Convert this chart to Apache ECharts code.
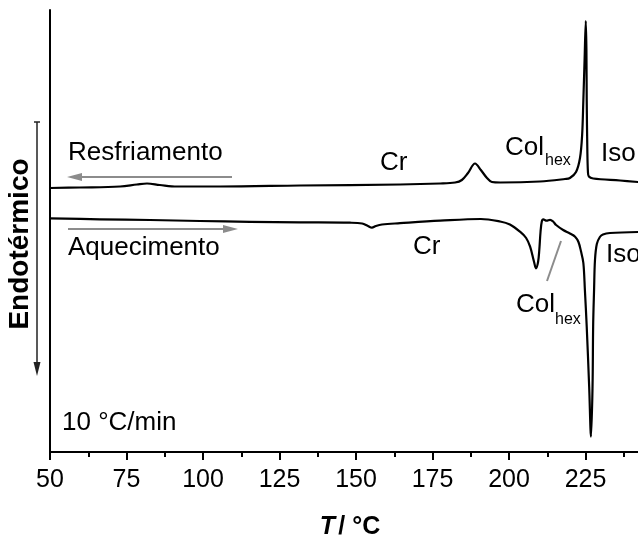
<!DOCTYPE html>
<html>
<head>
<meta charset="utf-8">
<script src="https://cdn.jsdelivr.net/npm/echarts@6/dist/echarts.min.js"></script>
<style>
  html, body { margin: 0; padding: 0; background: #fff; }
  #contain { width: 638px; height: 538px; }
</style>
</head>
<body>
<div id="contain"></div>
<script>
// DSC: temperatura (°C) e fluxo de calor (unidades arbitrárias)
var coolT = [50, 59.8, 72.9, 78.4, 81.7, 85.9, 91.5, 105.6, 131.7, 164.4, 177.5, 182.4, 184.6, 186.6, 188.9, 190.8, 192.8, 194.4, 197.1, 210.1, 218.3, 219.9, 221.9, 223.2, 223.9, 224.3, 224.7, 225.1, 225.3, 225.4, 225.6, 225.8, 226.1, 227.5, 236.3, 242.2];
var coolHF = [264, 264.5, 265.5, 267.5, 268.5, 267, 265.5, 265.5, 266.5, 267.5, 268.5, 269.5, 272, 279, 288.5, 282, 274, 270, 269.5, 270.5, 273, 274, 280, 294, 317, 352, 392, 431, 402, 352, 302, 280, 275.5, 273.5, 271.5, 270];

var heatT = [50, 66.3, 82.7, 99.0, 115.4, 131.7, 148.0, 152.0, 153.9, 155.2, 156.5, 158.5, 164.4, 177.5, 190.8, 197.1, 200.3, 203.6, 205.6, 206.9, 208.2, 208.8, 209.5, 209.9, 210.3, 210.7, 211.2, 212.3, 213.4, 214.4, 215.4, 217.7, 219.9, 221.6, 222.7, 223.5, 224.3, 224.8, 225.4, 226.2, 226.8, 227.3, 227.5, 227.8, 228.1, 228.7, 229.7, 230.7, 233.0, 242.2];
var heatHF = [233.7, 232.7, 232, 231, 230.2, 229.7, 229.3, 228.5, 226, 224.3, 226, 227.5, 228.8, 231.3, 233, 230.5, 227.5, 220.3, 214, 205.3, 190, 183.7, 190, 202, 220, 230.3, 232.7, 231.3, 232.2, 230.5, 227, 222, 218.5, 215.3, 210, 201, 189, 162, 125.3, 65.3, 15.3, 65.3, 126, 162, 192, 208, 215, 217.5, 219, 220];

var xTicks = { min: 50, max: 250, step: 25 };

function pairs(xs, ys) {
    var out = [];
    for (var i = 0; i < xs.length; i++) {
        out.push([xs[i], ys[i]]);
    }
    return out;
}

var FONT = '"Liberation Sans", Arial, sans-serif';
var GRAY = '#8c8c8c';

function label(text, x, y, size) {
    return {
        type: 'text', x: x, y: y,
        style: { text: text, fill: '#000', font: size + 'px ' + FONT, align: 'left', verticalAlign: 'middle' }
    };
}

var myChart = echarts.init(document.getElementById('contain'));
myChart.setOption({
    backgroundColor: '#fff',
    animation: false,
    grid: { left: 50, top: 10, right: -24, bottom: 86, containLabel: false, outerBoundsMode: 'none' },
    xAxis: {
        type: 'value',
        min: xTicks.min,
        max: xTicks.max,
        interval: xTicks.step,
        axisLine: { show: true, onZero: false, lineStyle: { color: '#000', width: 2 } },
        axisTick: { show: true, length: 8, lineStyle: { color: '#000', width: 2 } },
        minorTick: { show: true, splitNumber: 2, length: 5, lineStyle: { color: '#000', width: 2 } },
        splitLine: { show: false },
        minorSplitLine: { show: false },
        axisLabel: {
            color: '#000', fontSize: 25, fontFamily: FONT, margin: 16,
            showMaxLabel: false
        }
    },
    yAxis: {
        type: 'value',
        min: 0,
        max: 442,
        axisLine: { show: true, onZero: false, lineStyle: { color: '#000', width: 2 } },
        axisTick: { show: false },
        axisLabel: { show: false },
        splitLine: { show: false }
    },
    series: [
        {
            name: 'Resfriamento',
            type: 'line',
            data: pairs(coolT, coolHF),
            showSymbol: false,
            smooth: 0.35,
            lineStyle: { color: '#000', width: 2.2, join: 'round' }
        },
        {
            name: 'Aquecimento',
            type: 'line',
            data: pairs(heatT, heatHF),
            showSymbol: false,
            smooth: 0.35,
            lineStyle: { color: '#000', width: 2.2, join: 'round' }
        }
    ],
    graphic: [
        label('Resfriamento', 68, 153, 26),
        label('Aquecimento', 68, 248, 26),
        label('Cr', 380, 163, 26),
        label('Col', 505, 148, 26),
        label('hex', 545, 161, 16),
        label('Iso', 601, 154, 26),
        label('Cr', 413, 247, 26),
        label('Iso', 606, 255, 26),
        label('Col', 516, 305, 26),
        label('hex', 555, 320, 16),
        label('10 °C/min', 62, 423, 26),
        // setas cinzas
        { type: 'line', shape: { x1: 78, y1: 177, x2: 232, y2: 177 }, style: { stroke: GRAY, lineWidth: 2 } },
        { type: 'polygon', shape: { points: [[67, 177], [82, 173], [82, 181]] }, style: { fill: GRAY } },
        { type: 'line', shape: { x1: 68, y1: 229, x2: 228, y2: 229 }, style: { stroke: GRAY, lineWidth: 2 } },
        { type: 'polygon', shape: { points: [[238, 229], [223, 225], [223, 233]] }, style: { fill: GRAY } },
        { type: 'line', shape: { x1: 561, y1: 241, x2: 547, y2: 281 }, style: { stroke: GRAY, lineWidth: 2 } },
        // seta endotérmico
        { type: 'line', shape: { x1: 37, y1: 122, x2: 37, y2: 366 }, style: { stroke: '#222', lineWidth: 1.5 } },
        { type: 'line', shape: { x1: 34, y1: 122, x2: 40, y2: 122 }, style: { stroke: '#222', lineWidth: 1.5 } },
        { type: 'polygon', shape: { points: [[37, 376], [33.5, 362], [40.5, 362]] }, style: { fill: '#222' } },
        {
            type: 'text', x: 20, y: 244, rotation: Math.PI / 2,
            style: { text: 'Endotérmico', fill: '#000', font: 'bold 28px ' + FONT, align: 'center', verticalAlign: 'middle' }
        },
        {
            type: 'text', x: 350, y: 527,
            style: {
                text: '{i|T} {b|/ °C}', align: 'center', verticalAlign: 'middle',
                rich: {
                    i: { fontSize: 25, fontWeight: 'bold', fontStyle: 'italic', fontFamily: FONT, fill: '#000' },
                    b: { fontSize: 25, fontWeight: 'bold', fontFamily: FONT, fill: '#000' }
                }
            }
        }
    ]
});
</script>
</body>
</html>
